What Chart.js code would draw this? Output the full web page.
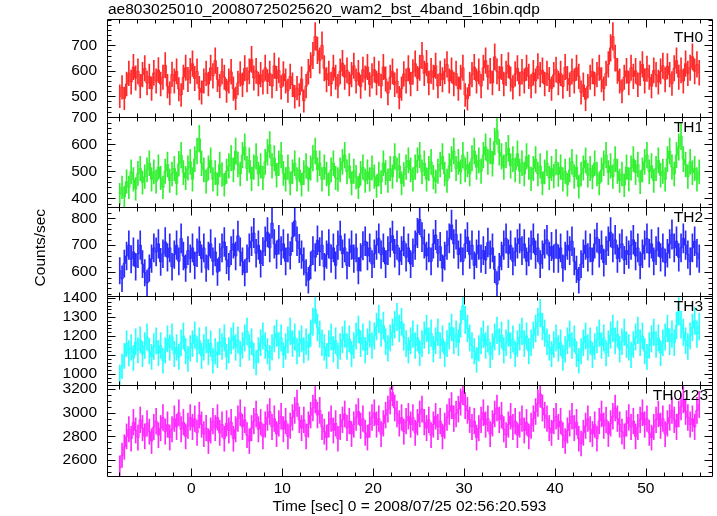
<!DOCTYPE html>
<html><head><meta charset="utf-8">
<script src="https://cdn.jsdelivr.net/npm/chart.js@4.4.1/dist/chart.umd.min.js"></script>
<style>html,body{margin:0;padding:0;background:#fff;}canvas{display:block;}</style>
</head><body>
<canvas id="c" width="717" height="516"></canvas>
<script>
const TITLE = 'ae803025010_20080725025620_wam2_bst_4band_16bin.qdp';
const X_TITLE = 'Time [sec] 0 = 2008/07/25 02:56:20.593';
const Y_TITLE = 'Counts/sec';
const BAND_NAMES = ['TH0', 'TH1', 'TH2', 'TH3', 'TH0123'];
const COLORS = ['#ff2828', '#30f030', '#2828ff', '#28ffff', '#ff28ff'];
const T_START = -8;
const BIN = 0.25;
const X_RANGE = [-9.28, 57.28];
const X_MAJOR = [0, 10, 20, 30, 40, 50];
const X_MINOR_STEP = 2;
const Y_RANGES = [[418, 802], [367, 700], [511, 841], [942, 1410], [2465, 3234]];
const Y_MAJOR = [[500, 600, 700], [400, 500, 600, 700], [600, 700, 800], [1000, 1100, 1200, 1300, 1400], [2600, 2800, 3000, 3200]];
const Y_MINOR_STEP = [20, 20, 20, 20, 50];
const PANEL_WEIGHT = [98, 90, 89, 89, 91];

const TH0 = [
500,535,492,548,590,556,615,572,598,540,585,610,552,578,530,592,
560,603,548,575,622,540,512,586,560,598,528,505,575,612,566,600,
628,570,598,532,515,560,590,548,612,580,640,566,540,598,575,522,
560,596,530,492,552,588,545,610,565,598,645,572,600,548,585,556,
612,558,590,540,620,570,602,535,588,560,522,578,545,498,532,505,
568,482,540,596,622,660,735,680,640,700,610,565,590,548,612,575,
540,598,630,575,602,548,585,620,560,592,538,605,572,615,546,580,
605,552,590,540,615,568,512,575,598,545,560,495,530,588,560,610,
548,595,628,570,612,660,590,630,552,600,575,620,540,590,565,598,
625,560,602,548,590,530,575,612,505,490,548,585,615,560,598,540,
612,640,575,600,552,655,598,570,615,548,590,622,568,535,588,610,
548,596,560,612,578,540,592,560,618,585,602,548,590,566,530,585,
605,552,590,538,615,570,545,598,560,612,578,515,545,488,540,575,
598,548,585,612,565,530,590,625,690,735,650,600,560,520,575,600,
552,612,578,600,545,590,625,560,608,575,540,602,585,556,598,620,
565,618,585,550,610,640,575,602,560,628,590,612,655,598,625,592];

const TH1 = [
415,440,405,462,440,498,470,435,492,510,458,480,505,530,470,498,
462,515,475,440,500,525,465,490,510,455,528,560,495,475,512,535,
470,545,575,620,530,505,462,512,540,470,495,452,525,488,450,500,
520,548,505,575,525,490,560,590,510,540,472,515,555,490,520,475,
535,570,598,520,548,485,530,560,492,470,515,455,498,530,470,505,
450,495,520,470,512,548,575,505,530,470,515,490,452,505,530,475,
470,505,535,560,498,520,455,500,478,440,492,515,465,498,470,512,
480,445,490,460,530,495,465,510,480,555,505,520,455,488,515,540,
505,470,515,540,560,498,530,470,510,535,478,462,500,525,555,490,
465,520,545,575,510,535,498,560,505,525,490,548,575,515,540,500,
560,590,535,575,528,610,650,570,555,515,560,585,520,545,505,565,
500,530,490,555,515,472,510,545,490,520,455,498,530,475,510,482,
535,488,515,470,500,450,505,535,480,515,442,490,512,540,485,510,
478,530,490,455,505,530,560,495,520,480,545,500,465,490,448,515,
470,512,545,495,525,460,505,535,560,498,520,465,510,540,485,500,
470,545,575,515,490,560,590,630,545,525,480,535,495,510,470,498];

const TH2 = [
605,575,632,660,700,648,675,620,668,700,630,598,560,615,650,690,
675,705,638,668,712,655,690,620,665,700,640,725,660,615,680,650,
690,625,672,715,650,690,615,660,705,640,675,600,655,690,712,645,
620,680,705,660,735,675,640,598,650,690,715,745,670,700,632,676,
715,748,690,782,705,665,720,680,705,640,690,662,730,790,715,688,
665,640,598,570,625,680,655,718,676,700,620,665,705,650,690,625,
700,735,668,690,625,672,700,650,690,605,655,698,715,660,690,630,
668,700,725,665,690,630,680,710,735,670,700,640,680,715,655,690,
630,672,700,745,795,730,705,660,690,640,705,738,670,695,615,660,
700,725,775,705,740,665,690,640,705,730,665,700,625,668,700,650,
680,645,710,665,690,610,555,620,660,700,725,668,700,640,675,705,
725,680,705,640,675,700,725,665,690,630,665,705,720,660,695,650,
705,650,690,615,660,700,680,715,640,610,570,630,668,700,655,690,
640,705,728,670,700,635,680,715,748,690,720,650,690,705,645,680,
665,700,720,660,690,625,668,700,725,670,705,640,680,712,655,690,
635,670,705,740,690,715,655,690,725,700,665,640,690,715,670,650];

const TH3 = [
985,1040,1095,1160,1110,1140,1085,1170,1125,1180,1105,1150,1195,1120,1090,1145,
1175,1110,1150,1070,1125,1185,1140,1195,1105,1140,1090,1165,1200,1120,1080,1135,
1160,1205,1130,1175,1095,1140,1180,1115,1160,1070,1120,1100,1170,1145,1190,1090,
1125,1175,1200,1140,1180,1105,1150,1190,1225,1140,1170,1095,1060,1125,1165,1200,
1150,1120,1085,1140,1185,1215,1150,1190,1100,1145,1180,1225,1160,1195,1120,1160,
1185,1125,1170,1140,1215,1275,1340,1245,1210,1165,1140,1095,1160,1195,1130,1175,
1095,1145,1180,1210,1145,1185,1105,1150,1200,1235,1160,1195,1125,1170,1210,1150,
1200,1250,1290,1215,1255,1170,1135,1190,1220,1260,1300,1240,1275,1195,1160,1125,
1175,1210,1150,1190,1110,1160,1205,1240,1175,1215,1130,1175,1220,1150,1185,1105,
1160,1200,1245,1175,1210,1165,1265,1360,1285,1240,1190,1150,1120,1075,1135,1175,
1210,1150,1185,1100,1145,1195,1230,1170,1205,1125,1165,1215,1150,1185,1105,1160,
1195,1225,1160,1200,1120,1165,1205,1240,1275,1320,1250,1215,1170,1140,1105,1155,
1190,1135,1165,1085,1130,1175,1210,1150,1185,1105,1070,1120,1165,1200,1140,1175,
1100,1145,1180,1215,1150,1190,1110,1160,1205,1240,1175,1210,1130,1170,1220,1155,
1140,1100,1155,1195,1230,1165,1200,1120,1090,1150,1185,1220,1155,1190,1110,1165,
1195,1240,1170,1210,1165,1255,1330,1260,1220,1175,1145,1200,1245,1280,1210,1250];

const TH0123 = [
2535,2640,2710,2800,2860,2780,2920,2850,2790,2940,2870,2800,2910,2840,2760,2880,
2930,2810,2870,2960,2840,2900,2790,2860,2950,2880,3000,2860,2920,2800,2890,2960,
2880,2950,2830,2980,2900,2820,2870,2760,2850,2930,2870,2960,2830,2900,2780,2910,
2850,2920,2780,2860,2950,3000,2880,2940,2810,2760,2870,2930,2990,2860,2920,2800,
2900,2960,3010,2880,2950,2820,2910,2970,2860,2930,2800,2890,2960,3020,3080,2940,
2870,2940,2800,2900,2980,3040,3110,2980,3020,2880,2840,2790,2900,2950,2850,2910,
2780,2880,2940,2990,2870,2930,2820,2900,2960,3010,2890,2950,2830,2790,2900,2960,
3000,2900,2950,2820,2910,2980,3030,3100,3170,3040,2990,2910,2960,2840,2930,2970,
2900,2960,2830,2920,2990,3030,2920,2870,2940,2810,2900,2970,2880,2930,2800,2890,
2960,3010,3060,2950,2990,3030,3090,3180,3060,3020,2940,2880,2930,2790,2870,2940,
3000,2900,2950,2820,2910,2990,3040,2940,2980,2860,2810,2900,2970,2880,2930,2810,
2900,2950,2850,2920,2800,2890,2950,3010,3080,3160,3040,2980,2950,2870,2830,2930,
2970,2880,2930,2810,2760,2850,2910,2970,2870,2920,2780,2740,2830,2890,2950,2860,
2820,2900,2780,2930,2990,2890,2940,2820,2910,2970,3040,2950,2900,2840,2800,2910,
2960,2880,2930,2800,2880,2940,3000,2900,2950,2830,2790,2880,2940,2990,2890,2950,
2820,2910,2960,3020,2940,2880,2990,3050,3110,3010,2960,2900,2950,2880,3020,3070];

const SERIES = [TH0, TH1, TH2, TH3, TH0123];

const FONT_FAMILY = '"Liberation Sans", Arial, Helvetica, sans-serif';
const FONT_SIZE = 15.5;

const datasets = [];
SERIES.forEach((vals, i) => {
  const t = vals.map((v, k) => T_START + BIN * (k + 0.5));
  datasets.push({
    type: 'bar',
    data: vals.map((v, k) => { const e = Math.sqrt(v / BIN); return { x: t[k], y: [v - e, v + e] }; }),
    xAxisID: 'x', yAxisID: 'y' + i,
    backgroundColor: COLORS[i], borderWidth: 0,
    barThickness: 1, grouped: false, order: 2
  });
  datasets.push({
    type: 'line',
    data: vals.map((v, k) => ({ x: t[k], y: v })),
    xAxisID: 'x', yAxisID: 'y' + i,
    borderColor: COLORS[i], borderWidth: 1, pointRadius: 0,
    stepped: 'middle', fill: false, order: 1
  });
});

const scales = {
  x: {
    type: 'linear', position: 'bottom', min: X_RANGE[0], max: X_RANGE[1], offset: false,
    grid: { display: false, drawTicks: false, offset: false }, border: { display: false },
    ticks: { color: '#000', font: { family: FONT_FAMILY, size: FONT_SIZE }, padding: 3, maxRotation: 0, autoSkip: false, callback: v => String(v) },
    afterBuildTicks: s => { s.ticks = X_MAJOR.map(v => ({ value: v })); },
    afterFit: s => { s.height = 40; }
  }
};
Y_RANGES.forEach((r, i) => {
  scales['y' + i] = {
    type: 'linear', position: 'left', stack: 'panels', stackWeight: PANEL_WEIGHT[i], weight: 5 - i,
    min: r[0], max: r[1],
    grid: { display: false, drawTicks: false }, border: { display: false },
    ticks: { color: '#000', font: { family: FONT_FAMILY, size: FONT_SIZE }, padding: 10, autoSkip: false, callback: v => String(v) },
    afterBuildTicks: s => { s.ticks = Y_MAJOR[i].map(v => ({ value: v })); },
    afterFit: s => { s.width = 107; }
  };
});

const px = v => Math.round(v) + 0.5;

const framePlugin = {
  id: 'frame',
  afterDraw(chart) {
    const ctx = chart.ctx;
    const xs = chart.scales.x;
    const L = px(xs.left), R = px(xs.right);
    ctx.save();
    ctx.strokeStyle = '#000';
    ctx.lineWidth = 1;
    for (let i = 0; i < 5; i++) {
      const ys = chart.scales['y' + i];
      const T = px(ys.top), B = px(ys.bottom);
      ctx.beginPath();
      ctx.rect(L, T, R - L, B - T);
      const x0 = Math.ceil(X_RANGE[0] / X_MINOR_STEP) * X_MINOR_STEP;
      for (let v = x0; v <= X_RANGE[1]; v += X_MINOR_STEP) {
        const len = (v % 10 === 0) ? 8 : 4;
        const xp = px(xs.getPixelForValue(v));
        ctx.moveTo(xp, T); ctx.lineTo(xp, T + len);
        ctx.moveTo(xp, B); ctx.lineTo(xp, B - len);
      }
      const st = Y_MINOR_STEP[i];
      const y0 = Math.ceil(Y_RANGES[i][0] / st) * st;
      for (let v = y0; v <= Y_RANGES[i][1]; v += st) {
        const len = Y_MAJOR[i].includes(v) ? 8 : 4;
        const yp = px(ys.getPixelForValue(v));
        ctx.moveTo(L, yp); ctx.lineTo(L + len, yp);
        ctx.moveTo(R, yp); ctx.lineTo(R - len, yp);
      }
      ctx.stroke();
    }
    ctx.fillStyle = '#000';
    ctx.font = FONT_SIZE + 'px ' + FONT_FAMILY;
    ctx.textAlign = 'left'; ctx.textBaseline = 'alphabetic';
    ctx.fillText(TITLE, 108, 14);
    ctx.textAlign = 'center'; ctx.textBaseline = 'middle';
    ctx.fillText(X_TITLE, (xs.left + xs.right) / 2, 507);
    const ca = chart.chartArea;
    ctx.save();
    ctx.translate(41, (ca.top + ca.bottom) / 2);
    ctx.rotate(-Math.PI / 2);
    ctx.fillText(Y_TITLE, 0, 0);
    ctx.restore();
    const labelOffset = [18.5, 10.5, 10.5, 10.5, 11];
    const labelRight = [703, 703, 703, 703, 708];
    ctx.textAlign = 'right'; ctx.textBaseline = 'middle';
    for (let i = 0; i < 5; i++) {
      const ys = chart.scales['y' + i];
      ctx.fillText(BAND_NAMES[i], labelRight[i], ys.top + labelOffset[i]);
    }
    ctx.restore();
  }
};

new Chart(document.getElementById('c'), {
  type: 'bar',
  data: { datasets },
  options: {
    responsive: false, animation: false, devicePixelRatio: 1,
    layout: { padding: { top: 19, right: 5, bottom: 0, left: 0 } },
    plugins: { legend: { display: false }, tooltip: { enabled: false }, title: { display: false } },
    scales
  },
  plugins: [framePlugin]
});
</script>
</body></html>
